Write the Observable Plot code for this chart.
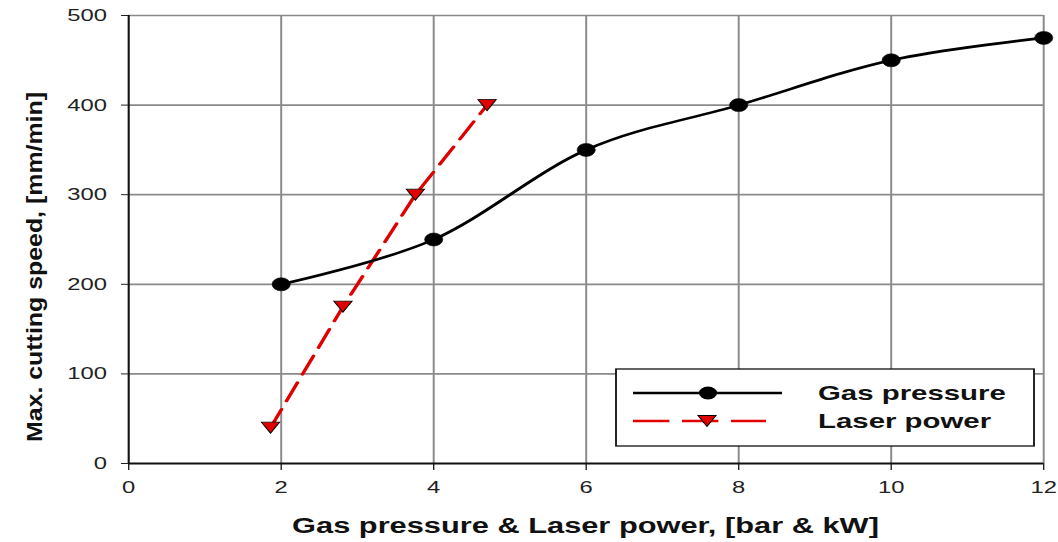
<!DOCTYPE html>
<html>
<head>
<meta charset="utf-8">
<script src="https://cdn.jsdelivr.net/npm/d3@7"></script>
<script src="https://cdn.jsdelivr.net/npm/@observablehq/plot@0.6"></script>
<style>
  html, body { margin: 0; padding: 0; background: #fff; }
  #chart { width: 1058px; height: 542px; overflow: hidden; }
</style>
</head>
<body>
<div id="chart"></div>
<script>
// ---- data ----
const xTicks = [0, 2, 4, 6, 8, 10, 12];
const yTicks = [0, 100, 200, 300, 400, 500];
const gasX = [2, 4, 6, 8, 10, 12];
const gasY = [200, 250, 350, 400, 450, 475];
const laserX = [1.86, 2.81, 3.76, 4.70];
const laserY = [40, 175, 300, 400];
const seriesNames = ["Gas pressure", "Laser power"];
const xLabel = "Gas pressure & Laser power, [bar & kW]";
const yLabel = "Max. cutting speed, [mm/min]";

const gas = gasX.map((x, i) => ({x, y: gasY[i]}));
const laser = laserX.map((x, i) => ({x, y: laserY[i]}));

// the reference is horizontally stretched; draw in narrower units and stretch the svg
const SX = 1.4;
const W = 1058 / SX, H = 542;
const RED = "#e00000";

const triDown = {
  draw(ctx, size) {
    ctx.moveTo(-6.5, -5.5);
    ctx.lineTo(6.5, -5.5);
    ctx.lineTo(0, 5.5);
    ctx.closePath();
  }
};

const chart = Plot.plot({
  width: W,
  height: H,
  marginLeft: 128 / SX,
  marginRight: 15 / SX,
  marginTop: 15,
  marginBottom: 79,
  style: {fontFamily: "'Liberation Sans', Arial, sans-serif", fontSize: "17px", background: "white", overflow: "visible"},
  x: {domain: [0, 12]},
  y: {domain: [0, 500]},
  marks: [
    Plot.gridX(xTicks.slice(1), {stroke: "#8a8a8a", strokeOpacity: 1, strokeWidth: 1.4}),
    Plot.gridY(yTicks.slice(1), {stroke: "#8a8a8a", strokeOpacity: 1, strokeWidth: 1.7}),
    Plot.axisX(xTicks, {tickSize: 7, tickPadding: 10, fontSize: 17, color: "#222", label: null, tickFormat: d => String(d)}),
    Plot.axisY(yTicks, {tickSize: 5, tickPadding: 10.5, fontSize: 17, color: "#222", label: null, tickFormat: d => String(d)}),
    Plot.ruleX([0], {stroke: "#111", strokeWidth: 1.5}),
    Plot.ruleY([0], {stroke: "#111", strokeWidth: 2}),
    Plot.line(laser, {x: "x", y: "y", stroke: RED, strokeWidth: 2.6, strokeDasharray: "20,9"}),
    Plot.line(gas, {x: "x", y: "y", curve: "cardinal", tension: 0, stroke: "black", strokeWidth: 2.6}),
    Plot.dot(gas, {x: "x", y: "y", r: 6.5, fill: "black", stroke: "black", strokeWidth: 0.5}),
    Plot.dot(laser, {x: "x", y: "y", symbol: triDown, fill: RED, stroke: "black", strokeWidth: 0.8})
  ]
});

chart.setAttribute("width", 1058);
chart.setAttribute("height", 542);
chart.setAttribute("viewBox", `0 0 ${W} ${H}`);
chart.setAttribute("preserveAspectRatio", "none");
chart.style.maxWidth = "none";
chart.style.width = "1058px";
chart.style.height = "542px";

const svg = d3.select(chart);

// axis titles
svg.append("text")
  .attr("x", (128 / SX + (1058 - 15) / SX) / 2)
  .attr("y", 533)
  .attr("text-anchor", "middle")
  .attr("font-weight", "bold")
  .attr("font-size", 22)
  .attr("fill", "#111")
  .text(xLabel);

svg.append("text")
  .attr("transform", `translate(${34 / SX},267) rotate(-90)`)
  .attr("text-anchor", "middle")
  .attr("dominant-baseline", "central")
  .attr("font-weight", "bold")
  .attr("font-size", 16)
  .attr("fill", "#111")
  .attr("textLength", 350)
  .attr("lengthAdjust", "spacingAndGlyphs")
  .text(yLabel);

// legend
const lg = svg.append("g");
lg.append("rect")
  .attr("x", 616 / SX).attr("y", 369)
  .attr("width", (1034 - 616) / SX).attr("height", 77)
  .attr("fill", "white").attr("stroke", "#111").attr("stroke-width", 1.3);
lg.append("line")
  .attr("x1", 633 / SX).attr("x2", 782 / SX).attr("y1", 393).attr("y2", 393)
  .attr("stroke", "black").attr("stroke-width", 2.6);
lg.append("ellipse")
  .attr("cx", 708 / SX).attr("cy", 393).attr("rx", 6.5).attr("ry", 6.5).attr("fill", "black");
lg.append("line")
  .attr("x1", 633 / SX).attr("x2", 766 / SX).attr("y1", 421).attr("y2", 421)
  .attr("stroke", RED).attr("stroke-width", 2.6).attr("stroke-dasharray", "26,9");
lg.append("path")
  .attr("transform", `translate(${707 / SX},421)`)
  .attr("d", "M-6.5,-5.5L6.5,-5.5L0,5.5Z")
  .attr("fill", RED).attr("stroke", "black").attr("stroke-width", 0.8);
seriesNames.forEach((name, i) => {
  lg.append("text")
    .attr("x", 818 / SX).attr("y", 400 + i * 28)
    .attr("text-anchor", "start")
    .attr("font-weight", "bold").attr("font-size", 21).attr("fill", "#111")
    .text(name);
});

document.getElementById("chart").appendChild(chart);
</script>
</body>
</html>
